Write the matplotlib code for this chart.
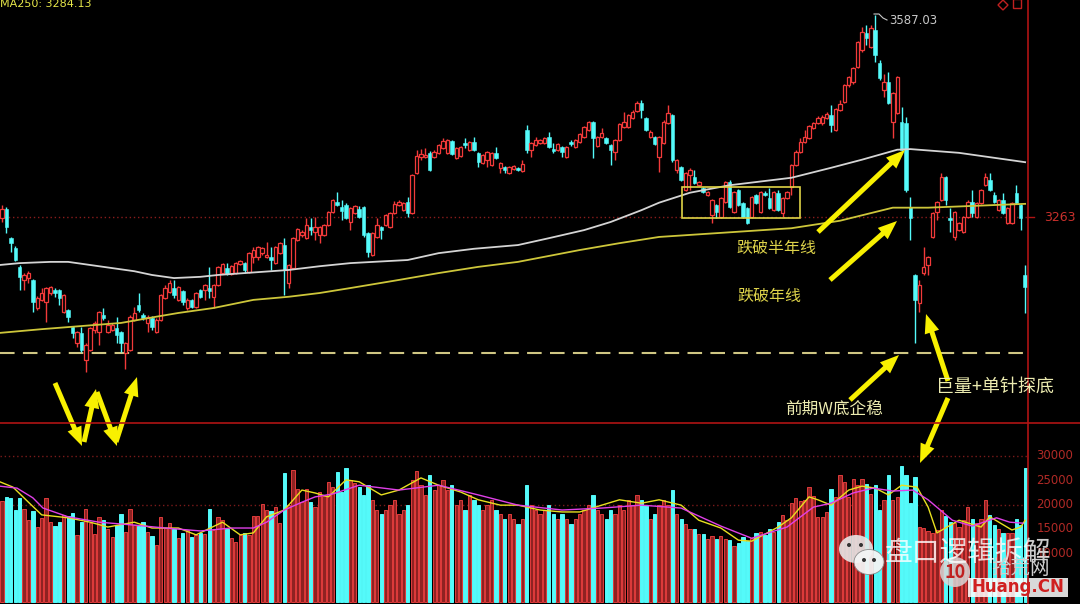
import matplotlib
matplotlib.use("Agg")
import matplotlib.pyplot as plt
from matplotlib.patches import Rectangle, FancyArrow, Polygon, Ellipse
from matplotlib.collections import LineCollection

plt.rcParams['font.family'] = ['Noto Sans CJK SC', 'DejaVu Sans']

# daily candles, oldest first
opens = [3261, 3276, 3229, 3213, 3183, 3162, 3165, 3162, 3117, 3130,
         3127, 3141, 3146, 3146, 3111, 3114, 3087, 3061, 3077, 3034,
         3050, 3082, 3078, 3106, 3078, 3082, 3085, 3078, 3045, 3050,
         3098, 3122, 3106, 3093, 3101, 3078, 3098, 3133, 3143, 3149,
         3130, 3144, 3117, 3130, 3119, 3146, 3146, 3149, 3135, 3154,
         3173, 3181, 3172, 3173, 3188, 3189, 3175, 3199, 3199, 3205,
         3199, 3199, 3189, 3205, 3218, 3157, 3181, 3226, 3234, 3229,
         3247, 3239, 3234, 3234, 3250, 3271, 3287, 3279, 3282, 3255,
         3269, 3276, 3279, 3237, 3202, 3231, 3247, 3250, 3247, 3269,
         3282, 3274, 3287, 3269, 3334, 3359, 3359, 3366, 3359, 3366,
         3374, 3366, 3385, 3358, 3361, 3382, 3371, 3383, 3366, 3350,
         3355, 3346, 3366, 3342, 3343, 3334, 3340, 3342, 3337, 3403,
         3371, 3379, 3382, 3382, 3391, 3372, 3371, 3375, 3359, 3383,
         3375, 3383, 3391, 3403, 3416, 3377, 3391, 3390, 3379, 3367,
         3387, 3407, 3407, 3422, 3433, 3446, 3422, 3391, 3391, 3359,
         3382, 3414, 3427, 3338, 3343, 3306, 3330, 3327, 3314, 3310,
         3298, 3266, 3282, 3263, 3287, 3319, 3271, 3306, 3286, 3278,
         3263, 3298, 3271, 3302, 3294, 3274, 3302, 3269, 3294, 3311,
         3346, 3367, 3383, 3390, 3406, 3414, 3414, 3422, 3427, 3403,
         3435, 3448, 3475, 3480, 3504, 3531, 3558, 3536, 3563, 3510,
         3467, 3480, 3416, 3430, 3416, 3414, 3279, 3170, 3125, 3173,
         3186, 3231, 3271, 3290, 3327, 3261, 3231, 3242, 3239, 3263,
         3287, 3263, 3286, 3314, 3322, 3298, 3274, 3290, 3253, 3253,
         3302, 3282, 3170]
closes = [3276, 3247, 3221, 3194, 3167, 3170, 3173, 3127, 3133, 3141,
          3149, 3151, 3141, 3133, 3138, 3103, 3077, 3078, 3050, 3058,
          3085, 3093, 3111, 3101, 3090, 3090, 3074, 3061, 3061, 3103,
          3109, 3114, 3101, 3103, 3087, 3098, 3138, 3149, 3157, 3138,
          3151, 3127, 3130, 3119, 3141, 3135, 3154, 3144, 3154, 3183,
          3188, 3172, 3184, 3189, 3192, 3178, 3205, 3210, 3215, 3213,
          3202, 3194, 3215, 3221, 3178, 3186, 3229, 3244, 3239, 3250,
          3242, 3247, 3247, 3250, 3271, 3290, 3282, 3273, 3261, 3278,
          3281, 3263, 3234, 3207, 3237, 3250, 3242, 3266, 3269, 3284,
          3287, 3286, 3269, 3330, 3361, 3364, 3363, 3338, 3367, 3379,
          3385, 3387, 3364, 3374, 3375, 3379, 3383, 3371, 3351, 3363,
          3367, 3366, 3358, 3350, 3338, 3343, 3345, 3338, 3348, 3371,
          3382, 3387, 3387, 3390, 3375, 3369, 3380, 3367, 3375, 3380,
          3387, 3396, 3407, 3416, 3390, 3391, 3398, 3382, 3371, 3387,
          3412, 3416, 3427, 3432, 3446, 3435, 3403, 3399, 3380, 3391,
          3416, 3430, 3355, 3355, 3322, 3334, 3338, 3318, 3319, 3303,
          3303, 3290, 3271, 3294, 3319, 3279, 3303, 3282, 3263, 3253,
          3295, 3286, 3303, 3298, 3278, 3303, 3274, 3294, 3303, 3346,
          3367, 3383, 3391, 3409, 3414, 3422, 3424, 3428, 3411, 3436,
          3444, 3475, 3488, 3502, 3544, 3560, 3550, 3566, 3523, 3486,
          3480, 3446, 3462, 3488, 3371, 3306, 3261, 3130, 3154, 3183,
          3199, 3269, 3287, 3327, 3290, 3258, 3271, 3253, 3263, 3287,
          3269, 3286, 3306, 3327, 3306, 3287, 3290, 3269, 3278, 3286,
          3286, 3261, 3151]
highs = [3282, 3279, 3231, 3217, 3186, 3173, 3176, 3164, 3136, 3149,
         3151, 3152, 3149, 3148, 3139, 3115, 3088, 3080, 3087, 3061,
         3087, 3096, 3112, 3117, 3098, 3093, 3103, 3080, 3063, 3106,
         3119, 3141, 3109, 3106, 3104, 3101, 3139, 3154, 3162, 3162,
         3152, 3146, 3133, 3131, 3143, 3148, 3156, 3183, 3156, 3184,
         3189, 3189, 3186, 3191, 3194, 3191, 3207, 3215, 3217, 3215,
         3223, 3215, 3217, 3223, 3229, 3188, 3231, 3245, 3242, 3261,
         3261, 3263, 3249, 3252, 3273, 3292, 3303, 3290, 3286, 3279,
         3282, 3281, 3281, 3239, 3239, 3261, 3249, 3268, 3271, 3289,
         3290, 3287, 3295, 3332, 3371, 3372, 3374, 3369, 3371, 3380,
         3390, 3388, 3387, 3375, 3377, 3390, 3385, 3391, 3367, 3364,
         3369, 3367, 3375, 3351, 3345, 3345, 3346, 3343, 3355, 3411,
         3383, 3391, 3388, 3391, 3399, 3382, 3382, 3377, 3377, 3387,
         3388, 3398, 3409, 3417, 3417, 3393, 3406, 3391, 3380, 3388,
         3414, 3432, 3428, 3435, 3449, 3451, 3424, 3403, 3393, 3393,
         3419, 3443, 3428, 3356, 3345, 3335, 3342, 3338, 3321, 3311,
         3305, 3292, 3284, 3295, 3321, 3322, 3305, 3308, 3287, 3279,
         3297, 3300, 3305, 3305, 3310, 3305, 3306, 3295, 3305, 3348,
         3371, 3390, 3403, 3411, 3416, 3425, 3427, 3432, 3443, 3438,
         3451, 3477, 3489, 3504, 3545, 3568, 3571, 3571, 3587.03, 3515,
         3493, 3496, 3464, 3489, 3440, 3424, 3295, 3172, 3162, 3215,
         3200, 3271, 3289, 3334, 3329, 3278, 3273, 3255, 3265, 3290,
         3306, 3287, 3308, 3334, 3334, 3303, 3292, 3302, 3279, 3287,
         3314, 3284, 3186]
lows = [3255, 3237, 3207, 3192, 3146, 3146, 3157, 3111, 3114, 3128,
        3095, 3138, 3135, 3122, 3109, 3095, 3069, 3054, 3046, 3014,
        3048, 3077, 3058, 3098, 3077, 3080, 3061, 3046, 3019, 3048,
        3096, 3111, 3098, 3078, 3082, 3077, 3096, 3131, 3141, 3133,
        3128, 3122, 3114, 3117, 3117, 3133, 3130, 3133, 3117, 3152,
        3172, 3170, 3170, 3172, 3186, 3173, 3173, 3189, 3194, 3202,
        3197, 3178, 3188, 3204, 3138, 3149, 3180, 3225, 3231, 3228,
        3234, 3226, 3221, 3233, 3249, 3269, 3281, 3258, 3260, 3242,
        3268, 3261, 3231, 3199, 3200, 3229, 3228, 3249, 3245, 3268,
        3281, 3273, 3263, 3268, 3332, 3355, 3358, 3337, 3358, 3364,
        3372, 3364, 3363, 3356, 3359, 3374, 3369, 3369, 3343, 3348,
        3343, 3345, 3356, 3334, 3334, 3332, 3338, 3337, 3335, 3366,
        3359, 3377, 3380, 3380, 3374, 3366, 3369, 3359, 3358, 3377,
        3374, 3382, 3390, 3401, 3358, 3375, 3390, 3380, 3346, 3355,
        3385, 3406, 3406, 3420, 3432, 3422, 3401, 3390, 3379, 3335,
        3380, 3412, 3351, 3334, 3321, 3305, 3306, 3316, 3313, 3302,
        3297, 3253, 3261, 3261, 3286, 3278, 3269, 3281, 3261, 3252,
        3261, 3284, 3269, 3297, 3276, 3273, 3273, 3263, 3292, 3298,
        3345, 3366, 3382, 3388, 3404, 3412, 3411, 3420, 3399, 3401,
        3433, 3446, 3472, 3477, 3502, 3528, 3539, 3534, 3512, 3483,
        3456, 3444, 3390, 3428, 3369, 3303, 3226, 3061, 3111, 3170,
        3170, 3229, 3258, 3289, 3282, 3239, 3226, 3241, 3237, 3261,
        3263, 3261, 3284, 3313, 3305, 3286, 3273, 3268, 3252, 3252,
        3284, 3242, 3109]
volumes = [20800, 21600, 21400, 19000, 21400, 19200, 16800, 18800, 15500, 17200,
           21300, 16500, 15600, 16500, 17900, 17700, 18200, 13800, 16500, 19200,
           16200, 14000, 17500, 16800, 15100, 13400, 15800, 18000, 14300, 19200,
           15800, 15600, 16500, 14400, 13600, 11700, 17500, 15300, 16200, 14900,
           13100, 14100, 14800, 13300, 13800, 14100, 14000, 19200, 14800, 17500,
           16800, 14900, 13100, 12400, 13800, 14100, 13800, 17700, 17700, 20100,
           19000, 18600, 19500, 16200, 26600, 20000, 27100, 23200, 20600, 23200,
           20600, 19500, 22700, 21800, 24700, 23700, 26800, 22700, 27500, 25100,
           24400, 23700, 22000, 24000, 21000, 19000, 18000, 19000, 20000, 21000,
           18000, 19000, 20000, 25000, 27000, 24000, 22000, 26000, 23000, 24000,
           25000, 23000, 24000, 20000, 21000, 19000, 22000, 21000, 20000, 19000,
           20000, 21000, 19000, 18000, 17000, 18000, 17000, 16000, 17000, 24000,
           20000, 19000, 18000, 19000, 20000, 18000, 17000, 18000, 17000, 16000,
           17000, 18000, 19000, 20000, 22000, 19000, 18000, 17000, 19000, 18000,
           20000, 19000, 21000, 20000, 22000, 21000, 20000, 17000, 18000, 20000,
           21000, 20000, 23000, 18000, 17000, 16000, 15000, 15000, 14000, 14000,
           13000, 13500, 13000, 13600, 13000, 12700, 11500, 12200, 13300, 12600,
           13100, 14100, 14400, 13800, 14900, 14400, 16500, 17900, 16800, 20400,
           21300, 20800, 21000, 23700, 21800, 17500, 17500, 18500, 23200, 21500,
           26100, 24700, 21600, 25200, 24000, 25200, 24200, 22200, 24000, 18900,
           21000, 26100, 21000, 21500, 27900, 26100, 20300, 25700, 15500, 15300,
           14500, 14100, 14800, 18900, 17700, 16500, 16200, 15500, 16800, 19600,
           17000, 16200, 17000, 21000, 17900, 15800, 15100, 14200, 14100, 14200,
           17000, 15800, 27600]

# moving averages (day number, value)
ma120_day = [0.5, 5, 12, 16, 23, 31, 35, 40, 46, 50, 56, 66, 73, 80, 93, 100,
             108, 118, 125, 133, 139, 146, 150, 157, 166, 180, 189, 196, 204, 207, 218, 233]
ma120_val = [3186, 3189, 3191, 3191, 3184, 3176, 3170, 3165, 3167, 3170, 3173, 3178,
             3184, 3189, 3194, 3205, 3212, 3218, 3229, 3242, 3255, 3274, 3286, 3302,
             3314, 3326, 3342, 3355, 3371, 3372, 3366, 3351]
ma250_day = [0.5, 10, 19, 28, 36, 41, 49, 58, 66, 73, 80, 91, 100, 109, 118, 132,
             141, 150, 180, 191, 203, 211, 233]
ma250_val = [3077, 3083, 3088, 3093, 3103, 3109, 3117, 3130, 3135, 3141, 3149, 3162,
             3173, 3183, 3191, 3210, 3221, 3231, 3245, 3257, 3278, 3278, 3284.13]
vma5_day = [0.5, 3.5, 7, 10, 16, 21, 25, 31, 35, 41, 45, 51, 55, 58, 61, 65, 69, 72,
            75, 79, 82, 87, 91, 96, 100, 105, 109, 114, 118, 123, 128, 132, 137, 141,
            146, 150, 155, 159, 164, 168, 171, 177, 180, 184, 186, 189, 193, 196, 199,
            202, 205, 208.5, 211, 213, 218, 223, 225, 230, 232, 233]
vma5_val = [24700, 23600, 20500, 17900, 17300, 16400, 15400, 16400, 15200, 15200,
            13800, 16400, 13800, 14200, 17500, 18900, 23000, 22400, 21600, 25100,
            24700, 22000, 23000, 25500, 24000, 22600, 21000, 19900, 19900, 18900,
            18500, 18500, 19900, 21000, 20300, 21000, 19900, 16800, 15200, 12700,
            12500, 15400, 17300, 21600, 21000, 19900, 23000, 23800, 23400, 22000,
            24000, 23600, 19500, 14200, 16800, 15400, 17500, 14800, 15400, 16800]
vma10_day = [0.5, 4.4, 8, 10.3, 16, 23, 31, 38, 46, 53, 58, 61, 65, 69, 72, 76, 80,
             82, 91, 100, 109, 118, 128, 137, 146, 155, 164, 171, 179, 185, 189, 194,
             198.5, 203, 207.5, 211, 216.5, 221, 226.5, 229.5, 232.5]
vma10_val = [23800, 23400, 21400, 19300, 17500, 16400, 15800, 15200, 14600, 15200,
             15200, 16400, 18900, 20500, 21600, 22200, 23400, 24000, 23000, 24000,
             22000, 19900, 18900, 19300, 19900, 19300, 15600, 13100, 15400, 19500,
             20300, 22400, 23400, 22800, 23000, 21000, 16800, 15600, 17300, 16400, 16200]

w_bottom = 3044
ref_price = 3263
vol_ticks = [30000, 25000, 20000, 15000, 10000]

W, H = 1080, 604
UP = '#f23a3a'
DN = '#54fafa'

fig = plt.figure(figsize=(W / 100, H / 100), dpi=100, facecolor='black')
ax = fig.add_axes([0, 1 - 422 / H, 1028 / W, 422 / H])
axv = fig.add_axes([0, 0, 1028 / W, 180 / H])
for a in (ax, axv):
    a.set_facecolor('black')
    a.set_xlim(0.546, 233.65)
    a.axis('off')
ax.set_ylim(2934, 3611.3)
axv.set_ylim(-411, 36573)

# reference levels
ax.axhline(ref_price, color='#8a1c1c', lw=1, ls=(0, (1, 2)), zorder=1)
ax.hlines(w_bottom, 0.546, 233, color='#cfc683', lw=1.5, ls=(0, (7, 4)), zorder=1)

# candles
n = len(opens)
bw = 0.78
wick_up, wick_dn = [], []
for i in range(n):
    x = i + 1
    o, h, l, c = opens[i], highs[i], lows[i], closes[i]
    top, bot = max(o, c), min(o, c)
    body = max(top - bot, 1.6)
    if c >= o:
        wick_up.append([(x, top), (x, h)])
        wick_up.append([(x, l), (x, bot)])
        ax.add_patch(Rectangle((x - bw / 2, bot), bw, body, fc='black', ec=UP, lw=0.9, zorder=2))
    else:
        wick_dn.append([(x, l), (x, h)])
        ax.add_patch(Rectangle((x - bw / 2, bot), bw, body, fc=DN, ec=DN, lw=0.4, zorder=2))
ax.add_collection(LineCollection(wick_up, colors=UP, lw=1, zorder=2))
ax.add_collection(LineCollection(wick_dn, colors=DN, lw=1, zorder=2))

ax.plot(ma120_day, ma120_val, color='#d4d4d4', lw=1.3, zorder=3)
ax.plot(ma250_day, ma250_val, color='#cdc63a', lw=1.3, zorder=3)

# volume
days = list(range(1, n + 1))
fc = ['#8e2222' if closes[i] >= opens[i] else DN for i in range(n)]
ec = ['#e03c3c' if closes[i] >= opens[i] else DN for i in range(n)]
axv.bar(days, volumes, width=0.74, color=fc, edgecolor=ec, lw=0.7, zorder=2)
for t in (30000, 20000):
    axv.axhline(t, color='#7a1a1a', lw=1, ls=(0, (1, 2)), zorder=1)
axv.plot(vma5_day, vma5_val, color='#e8e020', lw=1, zorder=3)
axv.plot(vma10_day, vma10_val, color='#e040e8', lw=1, zorder=3)

# right-hand scale
ax.text(1.016, ref_price, '3263', transform=ax.get_yaxis_transform(), color='#c8302c',
        fontsize=9, family='DejaVu Sans', va='center', ha='left', clip_on=False)
for t in vol_ticks:
    axv.text(1.008, t, str(t), transform=axv.get_yaxis_transform(), color='#b02a26',
             fontsize=8.5, family='DejaVu Sans', va='center', ha='left', clip_on=False)

# overlay in pixel units for frame lines and notes
ov = fig.add_axes([0, 0, 1, 1], zorder=10)
ov.set_xlim(0, W)
ov.set_ylim(H, 0)
ov.axis('off')
ov.patch.set_alpha(0)

ov.plot([0, W], [423, 423], color='#b01414', lw=1.2)
ov.plot([1028, 1028], [0, H], color='#b01414', lw=1.2)
ov.plot([1028, 1034], [217, 217], color='#b01414', lw=1)
ov.add_patch(Polygon([(1003, 0), (1008, 5), (1003, 10), (998, 5)], closed=True, fill=False, ec='#c02020', lw=1))
ov.add_patch(Rectangle((1013, -1), 8, 9, fill=False, ec='#c02020', lw=1))

ov.text(0, 4, 'MA250: 3284.13', color='#e8e84a', fontsize=8, family='DejaVu Sans', va='center', ha='left')
ov.plot([874, 879, 883, 887], [14, 14, 18, 20], color='#c8c8c8', lw=0.8)
ov.text(889, 20, '3587.03', color='#c8c8c8', fontsize=8.5, family='DejaVu Sans', va='center', ha='left')

ov.add_patch(Rectangle((682, 187), 118, 31, fill=False, ec='#e0d446', lw=1.2))

YEL = '#f8f000'
arrows = [((818, 232), (905, 150)), ((830, 280), (897, 221)), ((850, 400), (899, 355)),
          ((948, 381), (926, 314)), ((948, 398), (920, 463)),
          ((55, 383), (82, 446)), ((84, 442), (96, 389)), ((97, 392), (117, 446)),
          ((116, 442), (137, 377))]
for (x0, y0), (x1, y1) in arrows:
    ov.add_patch(FancyArrow(x0, y0, x1 - x0, y1 - y0, width=5, head_width=15, head_length=19,
                            length_includes_head=True, color=YEL, lw=0))

ov.text(776, 249, '跌破半年线', color='#ddd24a', fontsize=11.5, ha='center', va='center')
ov.text(769, 297, '跌破年线', color='#ddd24a', fontsize=11.5, ha='center', va='center')
ov.text(834, 409, '前期W底企稳', color='#ecebb0', fontsize=12, ha='center', va='center')
ov.text(995, 387, '巨量+单针探底', color='#ecebb0', fontsize=13, ha='center', va='center')

# watermark
ov.add_patch(Ellipse((856, 549), 34, 28, fc='#e6e6e6', ec='none', alpha=0.9))
ov.add_patch(Ellipse((869, 562), 30, 25, fc='#f4f4f4', ec='#888888', lw=0.6, alpha=0.95))
for px, py in [(849, 545), (861, 545), (864, 560), (874, 560)]:
    ov.add_patch(Ellipse((px, py), 4, 4, fc='#333333', ec='none'))
ov.text(885, 554, '盘口逻辑拆解', color='white', alpha=0.8, fontsize=20, ha='left', va='center')
ov.add_patch(Ellipse((955, 572), 30, 30, fc='#d8d8d8', ec='none', alpha=0.85))
ov.text(955, 572, '10', color='#c02020', fontsize=13, fontweight='bold', ha='center', va='center')
ov.text(1020, 568, '拾荒网', color='#cfcfcf', fontsize=14, ha='center', va='center')
ov.add_patch(Rectangle((968, 578), 100, 19, fc='white', ec='none', alpha=0.85))
ov.text(1018, 587, 'Huang.CN', color='#d02020', fontsize=12, family='DejaVu Sans',
        fontweight='bold', ha='center', va='center')

fig.savefig('out.png', dpi=100, facecolor='black')
